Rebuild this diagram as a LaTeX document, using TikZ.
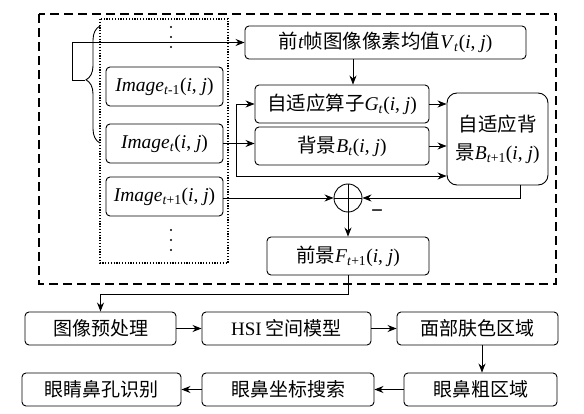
\documentclass[tikz,border=0pt]{standalone}
\usepackage{fontspec}
\setmainfont{Liberation Serif}
\newfontfamily\cjk{Noto Sans CJK SC}
\usetikzlibrary{arrows.meta,decorations.pathreplacing,calc}
\newcommand\iv[1]{\textit{#1}}
\newcommand\myij{(\iv{i}, \iv{j})}
\begin{document}
\begin{tikzpicture}[x=1pt,y=-1pt,
  box/.style={draw,rounded corners=4pt,line width=0.9pt,inner sep=0pt,font=\fontsize{19.5}{22}\selectfont},
  bbox/.style={box,minimum height=33pt,font=\fontsize{19}{22}\selectfont\cjk},
  arr/.style={-{Stealth[length=9pt,width=7pt]},line width=0.9pt},
  ln/.style={line width=0.9pt}]
\useasboundingbox (0,0) rectangle (584,414);
% frames
\draw[line width=1.4pt,dash pattern=on 9pt off 5pt] (39,14) rectangle (556,284);
\draw[line width=1.2pt,dash pattern=on 1.2pt off 1.6pt] (100,19) rectangle (228,263);
% dots
\foreach \yy in {27,37,47,230,240,250} \fill (171,\yy) circle (1.2pt);
% image boxes
\node[box,minimum width=117pt,minimum height=39pt] (im1) at (164.5,86.5) {\iv{Image}\textsubscript{\iv{t}-1}\myij};
\node[box,minimum width=117pt,minimum height=39pt] (im0) at (164.5,143.5) {\iv{Image}\textsubscript{\iv{t}}\myij};
\node[box,minimum width=117pt,minimum height=39pt] (im2) at (164.5,196.5) {\iv{Image}\textsubscript{\iv{t}+1}\myij};
% right boxes
\node[box,minimum width=281pt,minimum height=33pt] (mean) at (385.5,42.5) {{\cjk 前}\iv{t}{\cjk 帧图像像素均值}\iv{V}\textsubscript{\iv{t}}\myij};
\node[box,minimum width=174pt,minimum height=38pt] (gop) at (342,104) {{\cjk 自适应算子}\iv{G}\textsubscript{\iv{t}}\myij};
\node[box,minimum width=174pt,minimum height=38pt] (bg) at (342,146) {{\cjk 背景}\iv{B}\textsubscript{\iv{t}}\myij};
\node[box,rounded corners=10pt,minimum width=101pt,minimum height=92pt,align=center,font=\fontsize{19.5}{28}\selectfont] (abg) at (497.5,139) {{\cjk 自适应背}\\{\cjk 景}\iv{B}\textsubscript{\iv{t}+1}\myij};
\node[draw,circle,line width=0.9pt,minimum size=28pt,inner sep=0pt] (sum) at (348,198) {};
\draw[ln] (sum.north) -- (sum.south) (sum.west) -- (sum.east);
\node[font=\fontsize{21}{21}\selectfont\bfseries,inner sep=0pt] (minus) at (377,214) {−};
\node[box,minimum width=162pt,minimum height=38pt] (fg) at (348,256) {{\cjk 前景}\iv{F}\textsubscript{\iv{t}+1}\myij};
% bottom boxes
\node[bbox,minimum width=151pt] (p1) at (100.5,328.5) {图像预处理};
\node[bbox,minimum width=169pt] (p2) at (286.5,328.5) {{\rmfamily HSI} 空间模型};
\node[bbox,minimum width=161pt] (p3) at (477.5,328.5) {面部肤色区域};
\node[bbox,minimum width=153pt] (p4) at (480.5,389.5) {眼鼻粗区域};
\node[bbox,minimum width=172pt] (p5) at (288,389.5) {眼鼻坐标搜索};
\node[bbox,minimum width=159pt] (p6) at (101.5,389.5) {眼睛鼻孔识别};
% brace
\draw[ln,decorate,decoration={brace,amplitude=14pt,aspect=0.54}] (100,143) -- (100,26);
\coordinate (tip) at (85,80);
\coordinate (c1) at (353,0);
\coordinate (c2) at (0,176);
\coordinate (c3) at (520,0);
\coordinate (c4) at (482,0);
\coordinate (br) at (236,143.5);
% connectors
\draw[arr] (tip) -- ++(-13,0) |- (mean.west);
\draw[arr] (mean.south -| c1) -- (gop.north -| c1);
\draw[arr] (im0.east) -- (im0.east -| bg.west);
\draw[arr] (br) |- (gop.west);
\draw[arr] (br) |- (c2 -| abg.west);
\draw[arr] (gop.east) -- (gop.east -| abg.west);
\draw[arr] (bg.east) -- (bg.east -| abg.west);
\draw[arr] (sum.west -| im2.east) -- (sum.west);
\draw[arr] (abg.south -| c3) |- (sum.east);
\draw[arr] (sum.south) -- (fg.north);
\draw[arr] (fg.south) -- ++(0,19) -| (p1.north);
\draw[arr] (p1) -- (p2);
\draw[arr] (p2) -- (p3);
\draw[arr] (p3.south -| c4) -- (p4.north -| c4);
\draw[arr] (p4) -- (p5);
\draw[arr] (p5) -- (p6);
\end{tikzpicture}
\end{document}
